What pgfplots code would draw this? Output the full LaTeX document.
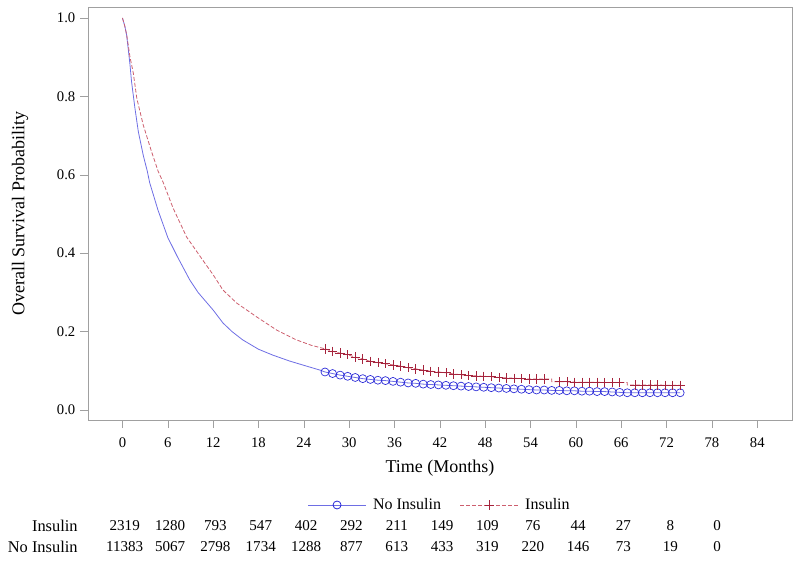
\documentclass[border=0pt]{standalone}
\usepackage{fontspec}
\setmainfont{Liberation Serif}
\usepackage{pgfplots}
\pgfplotsset{compat=1.18}
\definecolor{bline}{RGB}{110,110,228}
\definecolor{bmark}{RGB}{40,40,215}
\definecolor{rline}{RGB}{205,95,110}
\definecolor{rmark}{RGB}{165,35,60}
\definecolor{frame}{RGB}{160,160,160}
\begin{document}
\begin{tikzpicture}[num/.style={font=\fontsize{11.3}{13}\selectfont, anchor=center}]
\begin{axis}[
  at={(0,0)}, anchor=south west,
  scale only axis, width=528pt, height=309.75pt,
  xmin=-4.56, xmax=88.6, ymin=-0.0255, ymax=1.028,
  xtick={0,6,...,84}, ytick={0,0.2,0.4,0.6,0.8,1.0},
  yticklabel style={/pgf/number format/.cd, fixed, fixed zerofill, precision=1},
  /pgf/number format/assume math mode=true,
  tick pos=left, tick align=outside, major tick length=6pt,
  axis line style={frame}, tick style={frame},
  ticklabel style={font=\fontsize{11}{13}\selectfont},
  xticklabel style={yshift=-4pt},
  xlabel={Time (Months)}, ylabel={Overall Survival Probability},
  label style={font=\fontsize{13.5}{16}\selectfont},
  xlabel style={at={(axis description cs:0.5,-0.1162)}, anchor=center},
  ylabel style={at={(axis description cs:-0.0966,0.5)}, anchor=center},
  clip=false,
  legend columns=2,
  legend style={at={(axis description cs:0.5,-0.2058)}, anchor=center, draw=none, fill=none,
    font=\fontsize{12}{14}\selectfont,
    /tikz/every odd column/.append style={column sep=3pt},
    /tikz/every even column/.append style={column sep=12pt}},
  legend image code/.code={\draw[#1, mark=none] (0pt,0pt) -- (43.5pt,0pt);
     \draw[#1, solid] plot coordinates {(21.75pt,0pt)};},
]
% No Insulin curve
\addplot[bline, line width=0.6pt, mark=none, forget plot] coordinates {
(0,1) (0.3,0.98) (0.55,0.957) (0.77,0.92) (1.0,0.88) (1.2,0.838) (1.65,0.77) (2.1,0.71)
(2.75,0.65) (3.3,0.608) (3.6,0.58)
(4.7,0.51) (6,0.44) (7.3,0.39) (8.9,0.332) (10,0.30) (11.2,0.273) (12,0.255) (13.3,0.222)
(14.5,0.20) (15.9,0.179) (18,0.155) (19.9,0.140) (22.1,0.125) (24,0.114) (26.1,0.102)
(26.8,0.097) (27.8,0.093) (28.8,0.089) (29.8,0.086) (30.8,0.083) (31.8,0.080) (32.8,0.078)
(33.8,0.076) (34.8,0.075) (35.8,0.073) (36.8,0.071) (37.8,0.069) (38.8,0.068) (39.8,0.066)
(40.8,0.065) (41.8,0.064) (42.8,0.063) (43.8,0.062) (44.8,0.061) (45.8,0.060) (46.8,0.059)
(47.8,0.058) (48.8,0.057) (49.8,0.056) (50.8,0.055) (51.8,0.054) (52.8,0.053) (53.8,0.052)
(54.8,0.051) (55.8,0.051) (56.8,0.050) (57.8,0.050) (58.8,0.049) (59.8,0.049) (60.8,0.048)
(61.8,0.048) (62.8,0.047) (63.8,0.047) (64.8,0.046) (65.8,0.045) (66.8,0.044) (67.8,0.044)
(68.8,0.044) (69.8,0.044) (70.8,0.044) (71.8,0.044) (72.8,0.044) (73.8,0.044)};
\addplot[only marks, mark=o, mark size=3pt, mark options={bmark, line width=0.5pt}, forget plot] coordinates {
(26.8,0.097) (27.8,0.093) (28.8,0.089) (29.8,0.086) (30.8,0.083) (31.8,0.080) (32.8,0.078)
(33.8,0.076) (34.8,0.075) (35.8,0.073) (36.8,0.071) (37.8,0.069) (38.8,0.068) (39.8,0.066)
(40.8,0.065) (41.8,0.064) (42.8,0.063) (43.8,0.062) (44.8,0.061) (45.8,0.060) (46.8,0.059)
(47.8,0.058) (48.8,0.057) (49.8,0.056) (50.8,0.055) (51.8,0.054) (52.8,0.053) (53.8,0.052)
(54.8,0.051) (55.8,0.051) (56.8,0.050) (57.8,0.050) (58.8,0.049) (59.8,0.049) (60.8,0.048)
(61.8,0.048) (62.8,0.047) (63.8,0.047) (64.8,0.046) (65.8,0.045) (66.8,0.044) (67.8,0.044)
(68.8,0.044) (69.8,0.044) (70.8,0.044) (71.8,0.044) (72.8,0.044) (73.8,0.044)};
% Insulin curve
\addplot[rline, line width=0.6pt, dash pattern=on 3pt off 1.5pt, mark=none, forget plot] coordinates {
(0,1) (0.3,0.98) (0.55,0.958) (0.77,0.93) (1.0,0.90) (1.43,0.86) (1.9,0.795) (2.75,0.727)
(3.85,0.659) (4.7,0.61) (5.4,0.58)
(6.7,0.515) (8.5,0.441) (10.6,0.383) (12,0.345) (13.3,0.306) (15.1,0.273) (17.8,0.237)
(20.4,0.204) (23.0,0.179) (25,0.165) (26.8,0.156)
(27.8,0.150) (28.8,0.145) (29.8,0.141) (30.8,0.135) (31.8,0.130) (32.8,0.124) (33.8,0.121)
(34.8,0.118) (35.8,0.115) (36.8,0.112) (37.8,0.108) (38.8,0.105) (39.8,0.102) (40.8,0.099)
(41.8,0.097) (42.8,0.095) (43.8,0.092) (44.8,0.090) (45.8,0.088) (46.8,0.087) (47.8,0.086)
(48.8,0.085) (49.8,0.083) (50.8,0.082) (51.8,0.081) (52.8,0.080) (53.8,0.079) (54.8,0.079)
(55.8,0.079) (56.8,0.079) (56.8,0.072) (57.8,0.072) (58.8,0.072) (59.8,0.071) (60.8,0.071)
(61.8,0.071) (62.8,0.071) (63.8,0.070) (64.8,0.070) (65.8,0.070) (66.8,0.070) (66.8,0.064)
(67.8,0.064) (68.8,0.064) (69.8,0.064) (70.8,0.064) (71.8,0.063) (72.8,0.063) (73.8,0.063)};
\addplot[only marks, mark=+, mark size=3.5pt, mark options={rmark, line width=0.45pt}, forget plot] coordinates {
(26.8,0.156) (27.8,0.150) (28.8,0.145) (29.8,0.141) (30.8,0.135) (31.8,0.130) (32.8,0.124)
(33.8,0.121) (34.8,0.118) (35.8,0.115) (36.8,0.112) (37.8,0.108) (38.8,0.105) (39.8,0.102)
(40.8,0.099) (41.8,0.097) (42.8,0.095) (43.8,0.092) (44.8,0.090) (45.8,0.088) (46.8,0.087)
(47.8,0.086) (48.8,0.085) (49.8,0.083) (50.8,0.082) (51.8,0.081) (52.8,0.080) (53.8,0.079)
(54.8,0.079) (55.8,0.079) (57.8,0.072) (58.8,0.072) (59.8,0.071) (60.8,0.071)
(61.8,0.071) (62.8,0.071) (63.8,0.070) (64.8,0.070) (65.8,0.070)
(67.8,0.064) (68.8,0.064) (69.8,0.064) (70.8,0.064) (71.8,0.063) (72.8,0.063) (73.8,0.063)};
\addlegendimage{bline, line width=0.6pt, mark=o, mark size=3pt, mark options={bmark}}
\addlegendentry{No Insulin}
\addlegendimage{rline, line width=0.6pt, dash pattern=on 3pt off 1.5pt, mark=+, mark size=3.5pt, mark options={rmark}}
\addlegendentry{Insulin}
% at-risk table: Insulin
\node[num] at (axis cs:0.3,-0.2959) {2319};
\node[num] at (axis cs:6.3,-0.2959) {1280};
\node[num] at (axis cs:12.3,-0.2959) {793};
\node[num] at (axis cs:18.3,-0.2959) {547};
\node[num] at (axis cs:24.3,-0.2959) {402};
\node[num] at (axis cs:30.3,-0.2959) {292};
\node[num] at (axis cs:36.3,-0.2959) {211};
\node[num] at (axis cs:42.3,-0.2959) {149};
\node[num] at (axis cs:48.3,-0.2959) {109};
\node[num] at (axis cs:54.3,-0.2959) {76};
\node[num] at (axis cs:60.3,-0.2959) {44};
\node[num] at (axis cs:66.3,-0.2959) {27};
\node[num] at (axis cs:72.5,-0.2959) {8};
\node[num] at (axis cs:78.7,-0.2959) {0};
% No Insulin
\node[num] at (axis cs:0.3,-0.3495) {11383};
\node[num] at (axis cs:6.3,-0.3495) {5067};
\node[num] at (axis cs:12.3,-0.3495) {2798};
\node[num] at (axis cs:18.3,-0.3495) {1734};
\node[num] at (axis cs:24.3,-0.3495) {1288};
\node[num] at (axis cs:30.3,-0.3495) {877};
\node[num] at (axis cs:36.3,-0.3495) {613};
\node[num] at (axis cs:42.3,-0.3495) {433};
\node[num] at (axis cs:48.3,-0.3495) {319};
\node[num] at (axis cs:54.3,-0.3495) {220};
\node[num] at (axis cs:60.3,-0.3495) {146};
\node[num] at (axis cs:66.3,-0.3495) {73};
\node[num] at (axis cs:72.5,-0.3495) {19};
\node[num] at (axis cs:78.7,-0.3495) {0};
\node[font=\fontsize{12.3}{14}\selectfont, anchor=east, inner sep=0pt] at (axis cs:-5.9,-0.2959) {Insulin};
\node[font=\fontsize{12.3}{14}\selectfont, anchor=east, inner sep=0pt] at (axis cs:-5.9,-0.3495) {No Insulin};
\end{axis}
\pgfresetboundingbox
\useasboundingbox (-66pt,-105.75pt) rectangle (534pt,315pt);
\end{tikzpicture}
\end{document}
